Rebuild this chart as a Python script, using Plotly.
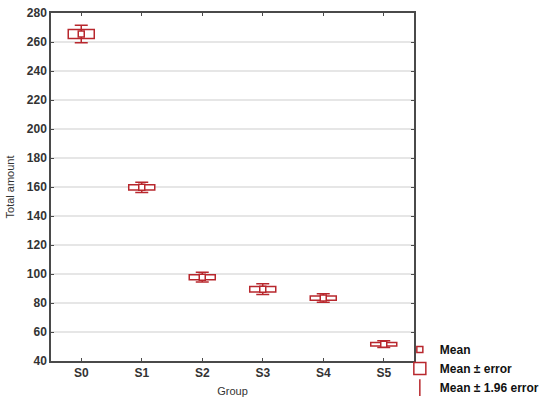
import plotly.graph_objects as go

# ── data ────────────────────────────────────────────────────
groups = ["S0", "S1", "S2", "S3", "S4", "S5"]
means = [265.5, 159.8, 97.8, 89.5, 83.4, 51.6]
errors = [3.1, 1.8, 1.7, 1.9, 1.5, 1.2]
whisk = [1.96 * e for e in errors]
y_ticks = list(range(40, 281, 20))

RED = "#b8272d"
AXIS = "#4a4a4a"

fig = go.Figure()

# box = mean ± error
fig.add_trace(go.Bar(
    x=groups,
    y=[2 * e for e in errors],
    base=[m - e for m, e in zip(means, errors)],
    width=0.43,
    marker=dict(color="white", line=dict(color=RED, width=1.5)),
    name="Mean ± error",
    legendrank=2,
))

# whiskers = mean ± 1.96 error
fig.add_trace(go.Scatter(
    x=groups, y=means, mode="markers",
    marker=dict(size=1, color="rgba(0,0,0,0)"),
    error_y=dict(type="data", array=whisk, color=RED, thickness=1.5, width=6.5),
    showlegend=False,
))

# mean points
fig.add_trace(go.Scatter(
    x=groups, y=means, mode="markers",
    marker=dict(symbol="square", size=6, color="white", line=dict(color=RED, width=1.5)),
    name="Mean",
    legendrank=1,
))

# legend entry for the whiskers
fig.add_trace(go.Scatter(
    x=[None], y=[None], mode="markers",
    marker=dict(symbol="line-ns-open", size=12, color=RED, line=dict(color=RED, width=1.5)),
    name="Mean ± 1.96 error",
    legendrank=3,
))

fig.update_layout(
    width=550, height=404,
    margin=dict(l=51, r=136, t=13, b=43, autoexpand=False),
    paper_bgcolor="white", plot_bgcolor="white",
    barmode="overlay",
    font=dict(family="Liberation Sans, Arial", color="#333333", size=11),
    legend=dict(
        x=0.961, xanchor="left", y=-0.118, yanchor="bottom",
        font=dict(family="Liberation Sans, Arial", size=12, color="#111111", weight="bold"),
        tracegroupgap=0, bgcolor="rgba(0,0,0,0)",
    ),
    xaxis=dict(
        title=dict(text="Group", font=dict(size=11), standoff=8),
        range=[-0.5, 5.5], automargin=False,
        showline=True, linecolor=AXIS, linewidth=1.5, mirror="ticks",
        ticks="inside", ticklen=3, tickcolor=AXIS,
        showgrid=False,
        tickfont=dict(size=12, weight="bold", color="#333333"),
    ),
    yaxis=dict(
        title=dict(text="Total amount", font=dict(size=11), standoff=10),
        range=[40, 280], tickvals=y_ticks, automargin=False,
        showline=True, linecolor=AXIS, linewidth=1.5, mirror="ticks",
        ticks="inside", ticklen=3, tickcolor=AXIS,
        showgrid=True, gridcolor="#e6e6e6", gridwidth=1.5,
        zeroline=False,
        tickfont=dict(size=12, weight="bold", color="#333333"),
    ),
)

# page margin off so the figure sits at the window's corner
fig.write_html(
    "out.html",
    config={"displayModeBar": False},
    post_script="document.body.style.margin='0';",
)
